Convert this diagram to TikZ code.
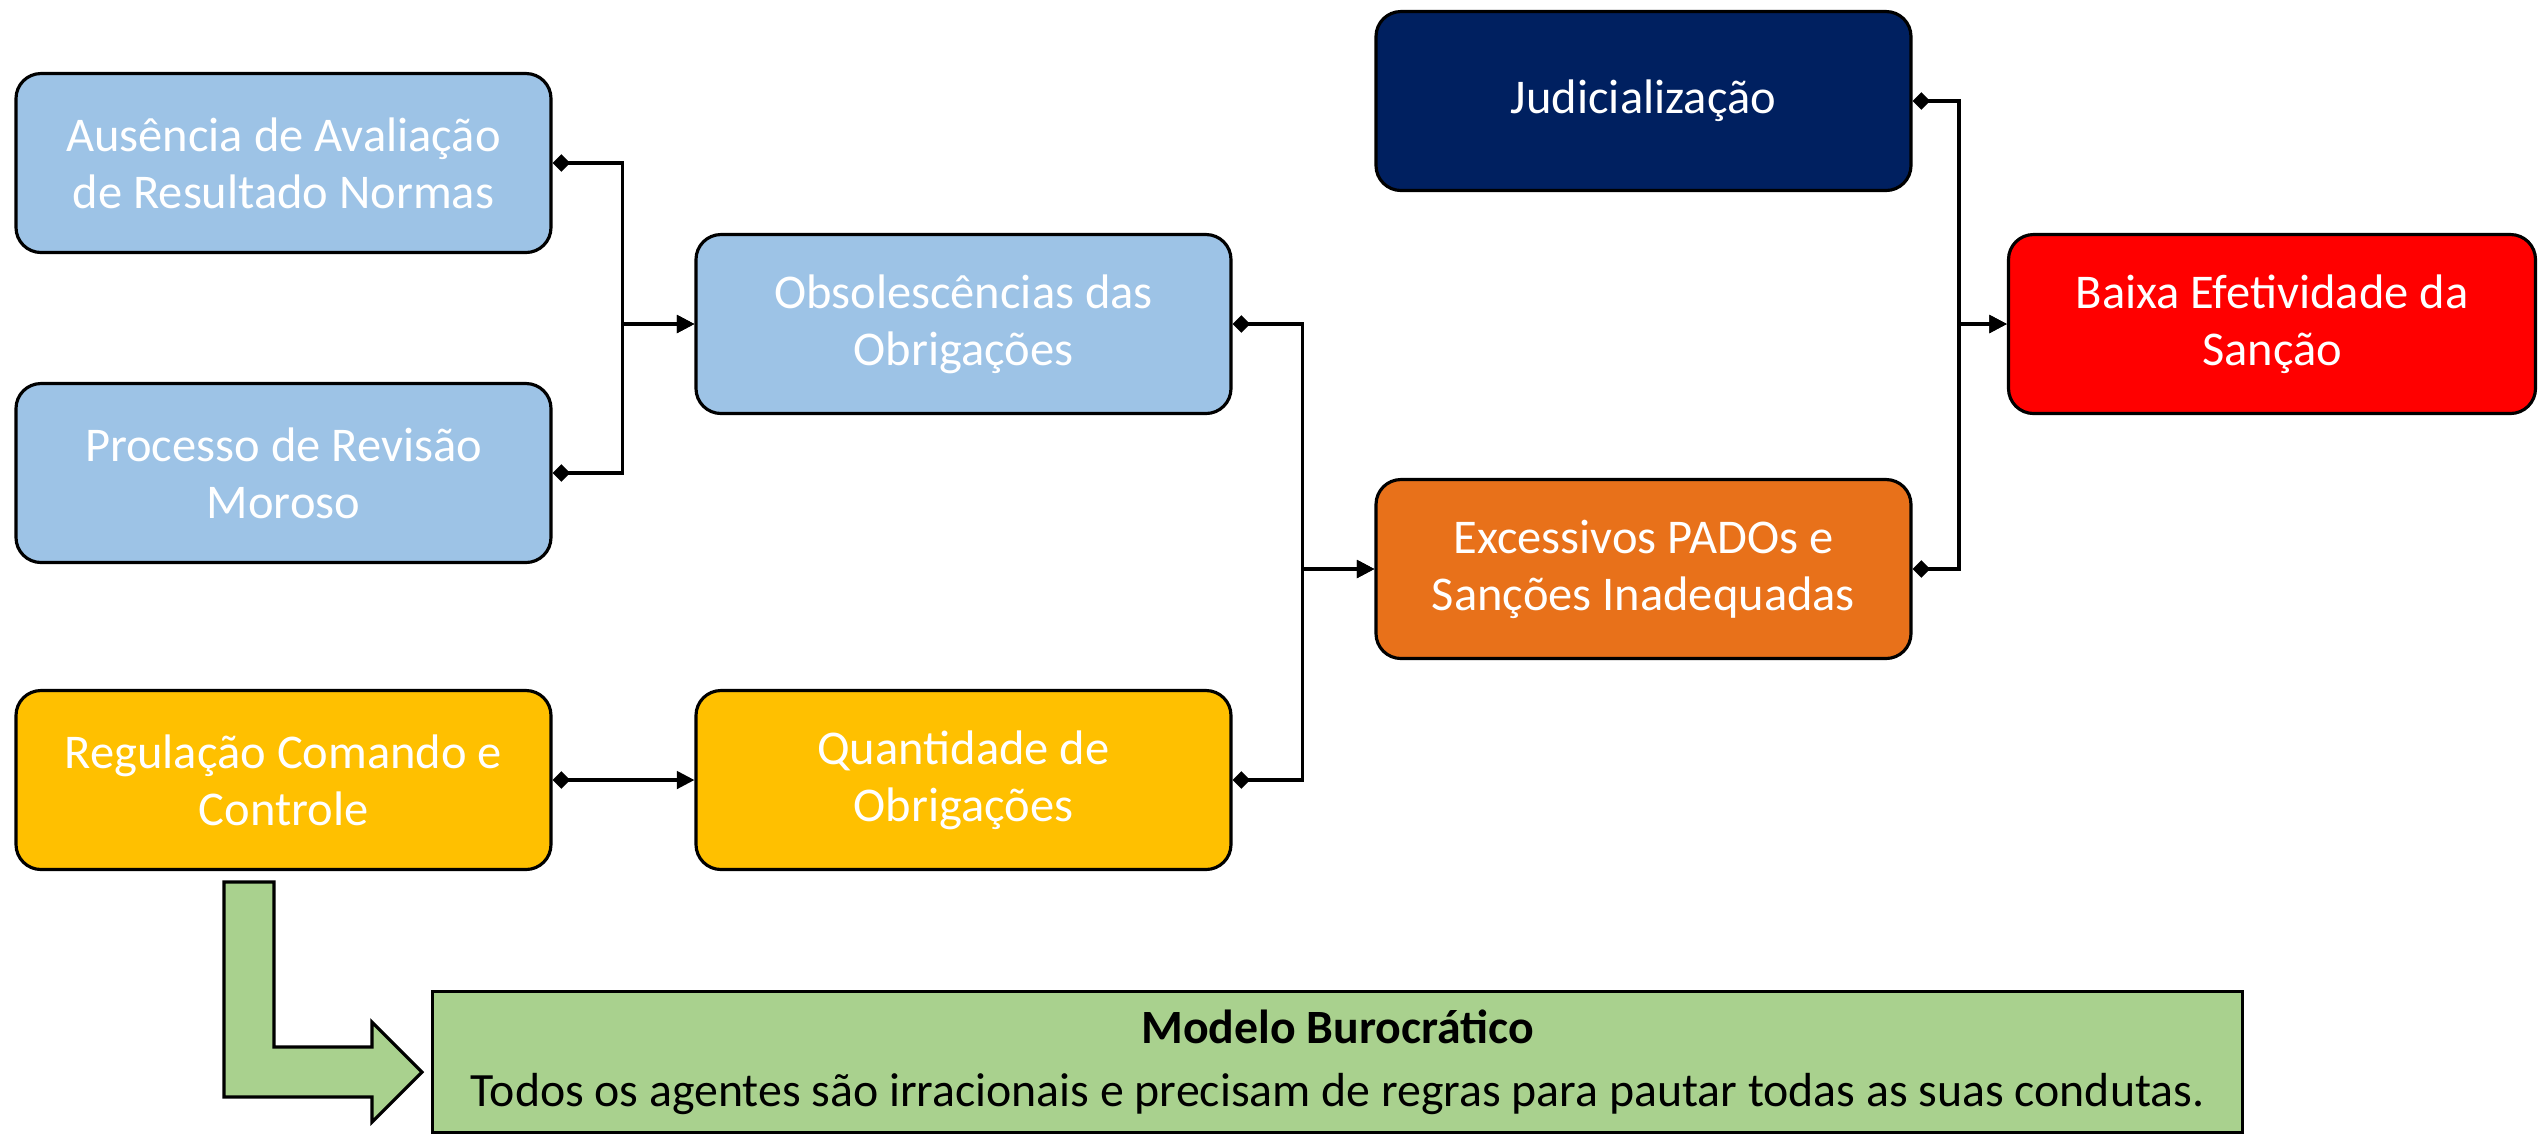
\documentclass[tikz,border=0pt]{standalone}
\usepackage{fontspec}
\setmainfont{Carlito}
\usepackage{tikz}
\usetikzlibrary{arrows.meta,calc}

\definecolor{lightblue}{HTML}{9DC3E6}
\definecolor{gold}{HTML}{FFC000}
\definecolor{burntorange}{HTML}{E8711A}
\definecolor{navy}{HTML}{002060}
\definecolor{leaf}{HTML}{A9D18E}

\begin{document}
\begin{tikzpicture}[
  thick,
  cause/.style={draw=black,line width=0.9pt,rounded corners=0.25cm,
    minimum width=5.35cm,minimum height=1.79cm,align=center,text=white,
    font=\fontsize{13.8}{16.2}\selectfont},
  link/.style={line width=0.9pt,{Diamond[length=5pt,width=5pt]}-{Triangle[length=5pt,width=5pt]}}
]
\useasboundingbox (0,0) rectangle (25.39,-11.33);

%First column of causes
\node[cause,fill=lightblue] (aval) at (2.835,-1.63) {Ausência de Avaliação\\de Resultado Normas};
\node[cause,fill=lightblue] (revis) at (2.835,-4.73) {Processo de Revisão\\Moroso};
\node[cause,fill=gold] (cmdctl) at (2.835,-7.80) {Regulação Comando e\\Controle};

%Second column
\node[cause,fill=lightblue] (obsol) at (9.635,-3.24) {Obsolescências das\\Obrigações};
\node[cause,fill=gold] (quant) at (9.635,-7.80) {Quantidade de\\Obrigações};

%Third column
\node[cause,fill=navy] (judic) at (16.435,-1.01) {Judicialização};
\node[cause,fill=burntorange] (pados) at (16.435,-5.69) {Excessivos PADOs e\\Sanções Inadequadas};

%Effect
\node[cause,fill=red,minimum width=5.27cm] (efet) at (22.72,-3.24) {Baixa Efetividade da\\Sanção};

%Junction points of the connectors
\coordinate (jobsol) at ($(obsol.west)+(-0.72,0)$);
\coordinate (jpados) at ($(pados.west)+(-0.72,0)$);
\coordinate (jefet) at ($(efet.west)+(-0.48,0)$);

\draw[link] (aval.east) -| (jobsol) -- (obsol.west);
\draw[link] (revis.east) -| (jobsol) -- (obsol.west);
\draw[link] (cmdctl.east) -- (quant.west);
\draw[link] (obsol.east) -| (jpados) -- (pados.west);
\draw[link] (quant.east) -| (jpados) -- (pados.west);
\draw[link] (judic.east) -| (jefet) -- (efet.west);
\draw[link] (pados.east) -| (jefet) -- (efet.west);

%Bureaucratic model box and the bent arrow
\node[draw=black,line width=0.9pt,fill=leaf,minimum width=18.1cm,minimum height=1.41cm,
  align=center,anchor=north west,font=\fontsize{13.6}{15.9}\selectfont] (model) at (4.31,-9.90)
  {\textbf{Modelo Burocrático}\\[2pt]Todos os agentes são irracionais e precisam de regras para pautar todas as suas condutas.};
\draw[line width=0.9pt,fill=leaf] (2.24,-8.82) -- (2.74,-8.82) -- (2.74,-10.47) -- (3.72,-10.47)
  -- (3.72,-10.22) -- (4.22,-10.72) -- (3.72,-11.22) -- (3.72,-10.97) -- (2.24,-10.97) -- cycle;

\end{tikzpicture}
\end{document}
